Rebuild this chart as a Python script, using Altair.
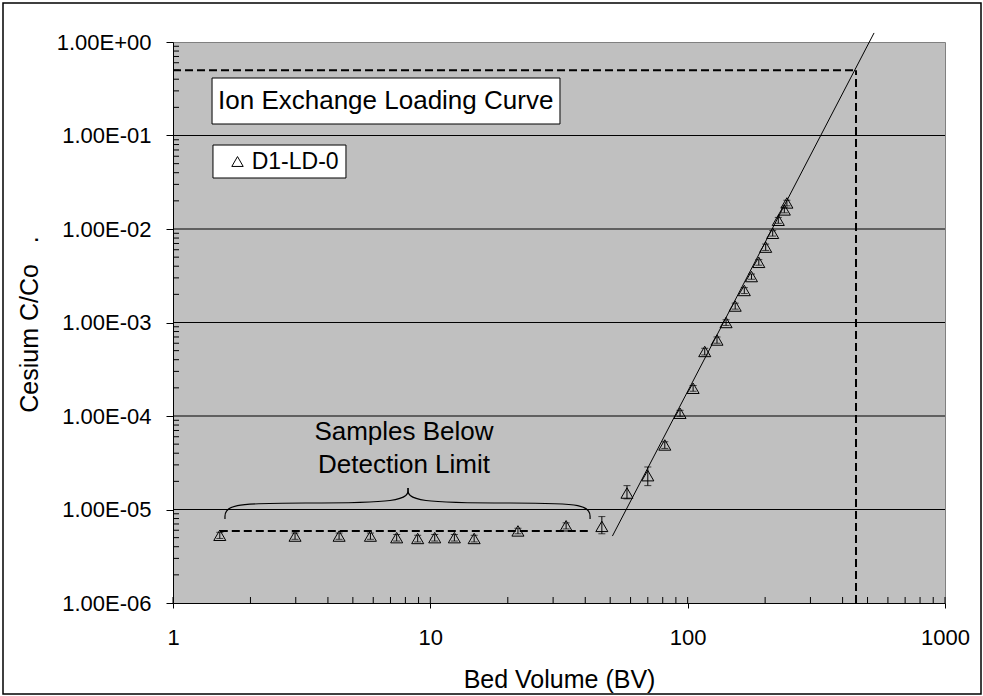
import altair as alt
import pandas as pd

FONT = "Liberation Sans"

# ---- data ----
bed_volume = [1.52, 2.98, 4.42, 5.85, 7.40, 8.93, 10.4, 12.4, 14.8, 21.9, 33.7, 46.4,
              58.1, 70.0, 81.5, 93.4, 105, 116.5, 130, 141, 153, 166, 177, 189, 201,
              214, 225, 237.5, 243]
cesium_ratio = [5.3e-6, 5.2e-6, 5.2e-6, 5.2e-6, 5.0e-6, 4.9e-6, 5.0e-6, 5.0e-6, 4.9e-6,
                5.9e-6, 6.7e-6, 6.6e-6, 1.5e-5, 2.3e-5, 4.9e-5, 1.07e-4, 1.98e-4,
                4.9e-4, 6.5e-4, 1.0e-3, 1.5e-3, 2.2e-3, 3.1e-3, 4.4e-3, 6.4e-3,
                9.0e-3, 1.24e-2, 1.6e-2, 1.9e-2]
err_low = [4.9e-6, 4.8e-6, 4.8e-6, 4.8e-6, 4.6e-6, 4.5e-6, 4.6e-6, 4.6e-6, 4.5e-6,
           5.5e-6, 6.2e-6, 5.5e-6, 1.3e-5, 1.8e-5, 4.5e-5, 9.9e-5, 1.84e-4,
           4.5e-4, 6.0e-4, 9.3e-4, 1.39e-3, 2.04e-3, 2.9e-3, 4.1e-3, 5.9e-3,
           8.4e-3, 1.15e-2, 1.49e-2, 1.77e-2]
err_high = [5.7e-6, 5.6e-6, 5.6e-6, 5.6e-6, 5.4e-6, 5.3e-6, 5.4e-6, 5.4e-6, 5.3e-6,
            6.3e-6, 7.2e-6, 8.4e-6, 1.8e-5, 2.85e-5, 5.3e-5, 1.15e-4, 2.12e-4,
            5.3e-4, 7.0e-4, 1.07e-3, 1.61e-3, 2.36e-3, 3.3e-3, 4.7e-3, 6.9e-3,
            9.6e-3, 1.33e-2, 1.71e-2, 2.03e-2]

x_ticks = [1, 10, 100, 1000]
y_ticks = [1e-6, 1e-5, 1e-4, 1e-3, 1e-2, 1e-1, 1]
grid_lines = [1e-5, 1e-4, 1e-3, 1e-2, 1e-1]
mantissas = [2, 3, 4, 5, 6, 7, 8, 9]

fit_x = [51, 530]
fit_y = [5.2e-6, 1.25]
half_x = [1, 451]
half_y = [0.5, 0.5]
vert_x = [451, 451]
vert_y = [0.5, 1e-6]
limit_x = [1.52, 41.8]
limit_y = [5.9e-6, 5.9e-6]

brace_x = [1.592, 1.592, 3.117, 8.19, 8.19, 8.19, 8.19, 21.5, 41.76, 41.76]
brace_y = [7.91e-6, 1.173e-5, 1.173e-5, 1.173e-5, 1.698e-5,
           1.698e-5, 1.173e-5, 1.173e-5, 1.173e-5, 7.91e-6]
brace_part = ["L"] * 5 + ["R"] * 5

note_text = ["Samples Below", "Detection Limit"]
note_x = [7.9, 7.9]
note_y = [6.79e-5, 2.99e-5]

title_box = {"x1": [1.418], "x2": [31.9], "y1": [0.412], "y2": [0.1327]}
title_text = ["Ion Exchange Loading Curve"]
title_pos = {"x": [1.496], "y": [0.234]}

legend_box = {"x1": [1.43], "x2": [4.70], "y1": [0.0791], "y2": [0.0351]}
legend_sym = {"x": [1.781], "y": [0.0527]}
legend_label = {"x": [2.022], "y": [0.0527], "t": ["D1-LD-0"]}

# ---- tables ----
pts = pd.DataFrame({"x": bed_volume, "y": cesium_ratio, "lo": err_low, "hi": err_high})
minor_x = pd.DataFrame({"x": [m * d for d in x_ticks[:-1] for m in mantissas] + x_ticks})
minor_y = pd.DataFrame({"y": [m * d for d in y_ticks[:-1] for m in mantissas]})
grid_df = pd.DataFrame({"y": grid_lines})
brace_df = pd.DataFrame({"x": brace_x, "y": brace_y, "part": brace_part,
                         "o": list(range(len(brace_x)))})

xscale = alt.Scale(type="log", domain=[1, 1000], nice=False)
yscale = alt.Scale(type="log", domain=[1e-6, 1], nice=False)

xaxis = alt.Axis(values=x_ticks, format="d", grid=False, title="Bed Volume (BV)",
                 tickSize=5, labelPadding=19, labelFontSize=22, titleFontSize=25,
                 titleX=386, titleY=84, titleBaseline="alphabetic", titleAlign="center",
                 labelFlush=False)
yaxis = alt.Axis(values=y_ticks, grid=False,
                 labelExpr="'1.00E' + (datum.value >= 1 ? '+00' : '-0' + round(-log(datum.value)/LN10))",
                 title="Cesium C/Co\u00a0\u00a0\u00a0.", tickSize=7, labelPadding=15,
                 labelFontSize=22, titleFontSize=25, titleX=-136, titleY=282,
                 titleAngle=270, titleBaseline="alphabetic", titleAlign="center")


def X(f="x"):
    return alt.X(f"{f}:Q", scale=xscale, axis=xaxis)


def Y(f="y"):
    return alt.Y(f"{f}:Q", scale=yscale, axis=yaxis)


def line_df(xs, ys):
    return pd.DataFrame({"x": xs, "y": ys})


grid = alt.Chart(grid_df).mark_rule(color="black", strokeWidth=1).encode(
    y=Y(), x=alt.value(0), x2=alt.value(772))

ticks_x = alt.Chart(minor_x).mark_rule(color="black", strokeWidth=1).encode(
    x=X(), y=alt.value(561), y2=alt.value(555))
ticks_y = alt.Chart(minor_y).mark_rule(color="black", strokeWidth=1).encode(
    y=Y(), x=alt.value(0), x2=alt.value(6))

dash = [8, 4]
half_line = alt.Chart(line_df(half_x, half_y)).mark_line(
    color="black", strokeWidth=2, strokeDash=dash).encode(x=X(), y=Y())
vert_line = alt.Chart(line_df(vert_x, vert_y)).mark_line(
    color="black", strokeWidth=2, strokeDash=dash).encode(x=X(), y=Y(), order=alt.Order("y:Q"))
limit_line = alt.Chart(line_df(limit_x, limit_y)).mark_line(
    color="black", strokeWidth=2, strokeDash=dash).encode(x=X(), y=Y())
fit_line = alt.Chart(line_df(fit_x, fit_y)).mark_line(
    color="black", strokeWidth=1).encode(x=X(), y=Y())

brace = alt.Chart(brace_df).mark_line(
    color="black", strokeWidth=1.2, interpolate="basis").encode(
    x=X(), y=Y(), detail="part:N", order=alt.Order("o:Q"))

err_rule = alt.Chart(pts).mark_rule(color="black", strokeWidth=1).encode(
    x=X(), y=Y("lo"), y2=alt.Y2("hi:Q"))
cap_lo = alt.Chart(pts).mark_tick(color="black", orient="horizontal", size=7,
                                  thickness=1).encode(x=X(), y=Y("lo"))
cap_hi = alt.Chart(pts).mark_tick(color="black", orient="horizontal", size=7,
                                  thickness=1).encode(x=X(), y=Y("hi"))
points = alt.Chart(pts).mark_point(shape="triangle-up", filled=False, color="black",
                                   strokeWidth=1, size=145, opacity=1).encode(x=X(), y=Y())

notes = alt.Chart(pd.DataFrame({"x": note_x, "y": note_y, "t": note_text})).mark_text(
    font=FONT, fontSize=26, color="black", align="center", baseline="middle").encode(
    x=X(), y=Y(), text="t:N")

tbox = alt.Chart(pd.DataFrame(title_box)).mark_rect(
    fill="white", stroke="black", strokeWidth=1).encode(
    x=X("x1"), x2=alt.X2("x2:Q"), y=Y("y1"), y2=alt.Y2("y2:Q"))
ttext = alt.Chart(pd.DataFrame({**title_pos, "t": title_text})).mark_text(
    font=FONT, fontSize=26, color="black", align="left", baseline="middle").encode(
    x=X(), y=Y(), text="t:N")

lbox = alt.Chart(pd.DataFrame(legend_box)).mark_rect(
    fill="white", stroke="black", strokeWidth=1).encode(
    x=X("x1"), x2=alt.X2("x2:Q"), y=Y("y1"), y2=alt.Y2("y2:Q"))
lsym = alt.Chart(pd.DataFrame(legend_sym)).mark_point(
    shape="triangle-up", filled=False, color="black", strokeWidth=1, size=130,
    opacity=1).encode(x=X(), y=Y())
ltext = alt.Chart(pd.DataFrame(legend_label)).mark_text(
    font=FONT, fontSize=23, color="black", align="left", baseline="middle").encode(
    x=X(), y=Y(), text="t:N")

frame = alt.Chart(pd.DataFrame({"a": [0]})).mark_rect(
    fillOpacity=0, stroke="black", strokeWidth=1.5).encode(
    x=alt.value(-170), x2=alt.value(808), y=alt.value(-39), y2=alt.value(652))

chart = alt.layer(
    grid, ticks_x, ticks_y, half_line, vert_line, limit_line, fit_line, brace,
    err_rule, cap_lo, cap_hi, points, notes, tbox, ttext, lbox, lsym, ltext, frame
).properties(
    width=772, height=561,
    autosize=alt.AutoSizeParams(type="none"),
    padding={"left": 173, "top": 42, "right": 38, "bottom": 93},
    background="white",
).configure_view(
    fill="#C0C0C0", stroke="#808080", strokeWidth=1
).configure_axis(
    domainColor="black", domainWidth=1, tickColor="black", tickWidth=1,
    labelColor="black", titleColor="black", labelFont=FONT, titleFont=FONT,
    titleFontWeight="normal"
)

chart.save("out.html", embed_options={"renderer": "svg", "actions": False})
